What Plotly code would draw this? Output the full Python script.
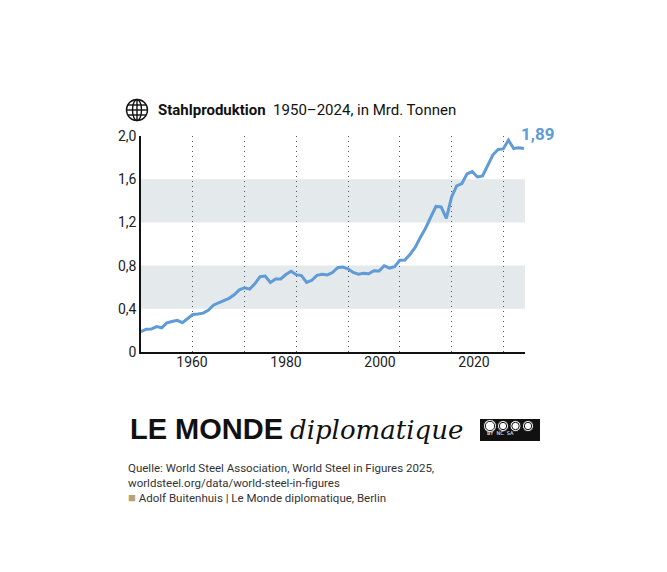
import plotly.graph_objects as go

# Weltweite Rohstahlproduktion, Mrd. Tonnen
years = list(range(1950, 2025))
steel = [
    0.189, 0.211, 0.212, 0.235, 0.224, 0.270, 0.283, 0.293, 0.271, 0.306,
    0.347, 0.351, 0.360, 0.387, 0.434, 0.456, 0.476, 0.497, 0.530, 0.575,
    0.595, 0.582, 0.631, 0.697, 0.703, 0.644, 0.675, 0.676, 0.717, 0.747,
    0.716, 0.707, 0.645, 0.664, 0.710, 0.719, 0.714, 0.736, 0.780, 0.786,
    0.770, 0.736, 0.720, 0.728, 0.725, 0.752, 0.750, 0.799, 0.777, 0.789,
    0.850, 0.852, 0.905, 0.971, 1.063, 1.148, 1.250, 1.348, 1.343, 1.238,
    1.433, 1.538, 1.560, 1.650, 1.671, 1.621, 1.630, 1.730, 1.826, 1.875,
    1.880, 1.962, 1.885, 1.892, 1.885,
]
y_ticks = [0, 0.4, 0.8, 1.2, 1.6, 2.0]
x_labels = [1960, 1980, 2000, 2020]
bands = [(0.4, 0.8), (1.2, 1.6)]

BLUE = "#5f9bd6"
FONT = "Roboto"

# Seitenpixel -> Papierkoordinaten (Body-Rand 8px, Plotflaeche 384x216)
L, T, PW, PH = 133, 128, 384, 216


def px(x):
    return (x - 8 - L) / PW


def py(y):
    return (T + PH - (y - 8)) / PH


fig = go.Figure()
fig.add_trace(go.Scatter(x=years, y=steel, mode="lines",
                         line=dict(color=BLUE, width=3), hoverinfo="x+y"))
# unsichtbare Spur nur fuer die Beschriftungsachse
fig.add_trace(go.Scatter(x=[x_labels[0], x_labels[-1]], y=[0, 0], xaxis="x2",
                         mode="markers", marker=dict(opacity=0), hoverinfo="skip"))

for lo, hi in bands:
    fig.add_shape(type="rect", xref="paper", x0=0, x1=1, yref="y", y0=lo, y1=hi,
                  fillcolor="#e4e9ec", line_width=0, layer="below")

fig.add_annotation(x=years[-1], y=steel[-1], text=f"<b>{steel[-1]:.2f}</b>".replace(".", ","),
                   showarrow=False, xanchor="left", yanchor="middle", xshift=-5, yshift=14,
                   font=dict(family=FONT, size=17, color=BLUE))


def pixel_shape(kind, cx, cy, x0, x1, y0, y1, **kw):
    fig.add_shape(type=kind, xref="paper", yref="paper", xsizemode="pixel", ysizemode="pixel",
                  xanchor=px(cx), yanchor=py(cy), x0=x0, x1=x1, y0=y0, y1=y1, **kw)


# Globus
g = dict(line=dict(color="#111", width=1.4))
pixel_shape("circle", 137, 110, -10.5, 10.5, -10.5, 10.5, **g)
pixel_shape("circle", 137, 110, -4.5, 4.5, -10.5, 10.5, **g)
pixel_shape("line", 137, 110, 0, 0, -10.5, 10.5, **g)
pixel_shape("line", 137, 110, -10.5, 10.5, 0, 0, **g)
pixel_shape("line", 137, 110, -9, 9, 5, 5, **g)
pixel_shape("line", 137, 110, -9, 9, -5, -5, **g)

fig.add_annotation(xref="paper", yref="paper", x=px(156), y=py(110), xanchor="left", yanchor="middle",
                   showarrow=False, text="<b>Stahlproduktion</b>  1950–2024, in Mrd. Tonnen",
                   font=dict(family=FONT, size=15, color="#111"))

# Logo
fig.add_annotation(xref="paper", yref="paper", x=px(128), y=py(429), xanchor="left", yanchor="middle",
                   showarrow=False, text="<b>LE MONDE</b>",
                   font=dict(family="Liberation Sans", size=29, color="#111"))
fig.add_annotation(xref="paper", yref="paper", x=px(288), y=py(430), xanchor="left", yanchor="middle",
                   showarrow=False, text="<i>diplomatique</i>",
                   font=dict(family="DejaVu Serif", size=26, color="#111"))

# CC-Lizenzplakette
pixel_shape("rect", 510, 430, -30, 30, -11, 11, fillcolor="#111", line_width=0)
for cx, r in [(490, 6.5), (503, 5.5), (515.5, 5.5), (528, 5.5)]:
    pixel_shape("circle", cx, 426, -r, r, -r, r, fillcolor="white", line=dict(color="#111", width=1))
    pixel_shape("circle", cx, 426, -r + 1.8, r - 1.8, -r + 1.8, r - 1.8, line=dict(color="#111", width=1))
fig.add_annotation(xref="paper", yref="paper", x=px(516), y=py(437.5), showarrow=False,
                   text="BY  NC  SA", font=dict(family="DejaVu Sans", size=5, color="white"))

# Quelle
fig.add_annotation(xref="paper", yref="paper", x=px(126), y=py(459), xanchor="left", yanchor="top",
                   showarrow=False, align="left",
                   text="Quelle: World Steel Association, World Steel in Figures 2025,<br>"
                        "worldsteel.org/data/world-steel-in-figures<br>"
                        "<span style='color:#b5a47a;font-size:13px'>■</span> Adolf Buitenhuis | Le Monde diplomatique, Berlin",
                   font=dict(family=FONT, size=11.5, color="#333"))

fig.update_layout(
    width=659, height=564, margin=dict(l=L, r=659 - L - PW, t=T, b=564 - T - PH),
    plot_bgcolor="white", paper_bgcolor="white", showlegend=False,
    xaxis=dict(range=[1950, 2024.2], tickvals=list(range(1960, 2030, 10)), showticklabels=False,
               showgrid=True, gridcolor="#555", gridwidth=1, griddash="1px,4px",
               showline=True, linecolor="#111", linewidth=1.5, zeroline=False, ticks=""),
    xaxis2=dict(overlaying="x", side="bottom", range=[1949.15, 2030.85], tickvals=x_labels,
                showgrid=False, showline=False, zeroline=False, ticks="",
                tickfont=dict(family=FONT, size=14, color="#222")),
    yaxis=dict(range=[0, 2.0], tickvals=y_ticks, showgrid=False,
               ticktext=["0"] + [f"{v:.1f}".replace(".", ",") for v in y_ticks[1:]],
               showline=True, linecolor="#111", linewidth=1.5, zeroline=False, ticks="",
               tickfont=dict(family=FONT, size=14, color="#222")),
)

fig.write_html("out.html")
